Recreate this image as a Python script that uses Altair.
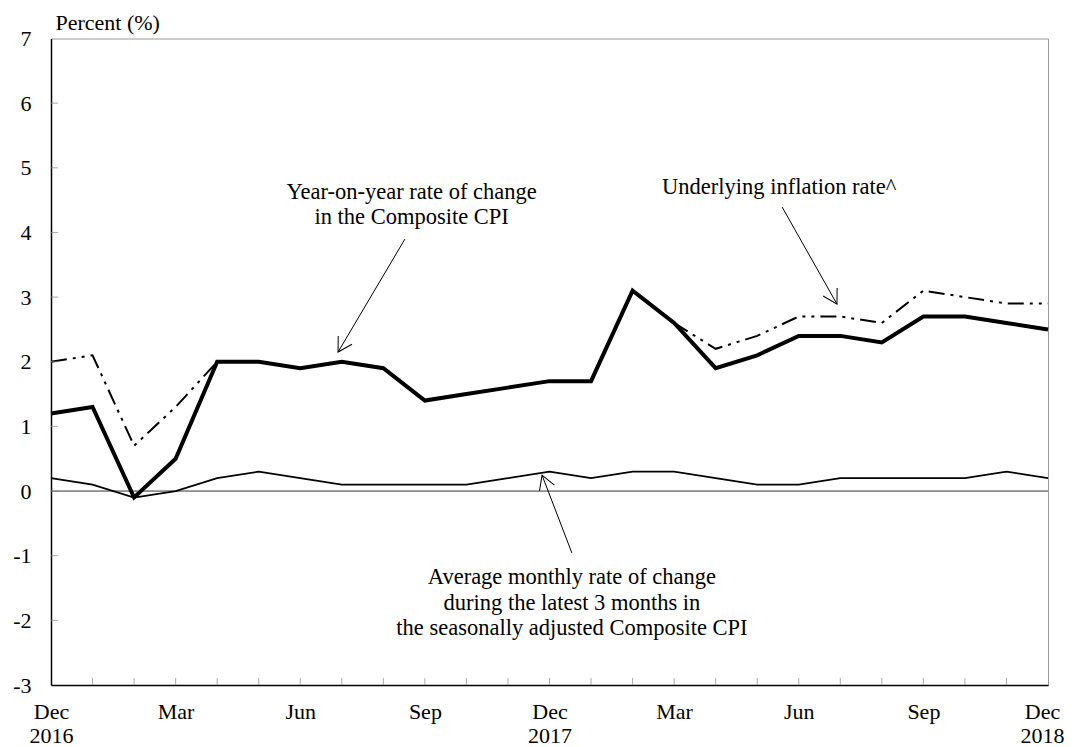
import math
import json
import altair as alt
import pandas as pd

# ---- data ----
months = ["Dec 2016", "Jan 2017", "Feb 2017", "Mar 2017", "Apr 2017", "May 2017", "Jun 2017",
          "Jul 2017", "Aug 2017", "Sep 2017", "Oct 2017", "Nov 2017", "Dec 2017",
          "Jan 2018", "Feb 2018", "Mar 2018", "Apr 2018", "May 2018", "Jun 2018",
          "Jul 2018", "Aug 2018", "Sep 2018", "Oct 2018", "Nov 2018", "Dec 2018"]
headline = [1.2, 1.3, -0.1, 0.5, 2.0, 2.0, 1.9, 2.0, 1.9, 1.4, 1.5, 1.6, 1.7,
            1.7, 3.1, 2.6, 1.9, 2.1, 2.4, 2.4, 2.3, 2.7, 2.7, 2.6, 2.5]
underlying = [2.0, 2.1, 0.7, 1.3, 2.0, 2.0, 1.9, 2.0, 1.9, 1.4, 1.5, 1.6, 1.7,
              1.7, 3.1, 2.6, 2.2, 2.4, 2.7, 2.7, 2.6, 3.1, 3.0, 2.9, 2.9]
monthly = [0.2, 0.1, -0.1, 0.0, 0.2, 0.3, 0.2, 0.1, 0.1, 0.1, 0.1, 0.2, 0.3,
           0.2, 0.3, 0.3, 0.2, 0.1, 0.1, 0.2, 0.2, 0.2, 0.2, 0.3, 0.2]

x_tick_values = [0, 3, 6, 9, 12, 15, 18, 21, 24]
x_tick_labels = ["Dec\n2016", "Mar", "Jun", "Sep", "Dec\n2017", "Mar", "Jun", "Sep", "Dec\n2018"]
y_tick_values = [-3, -2, -1, 0, 1, 2, 3, 4, 5, 6, 7]
y_title = "Percent (%)"

# annotation text (x in month index, y in percent, baseline)
ann_text = ["Year-on-year rate of change", "in the Composite CPI",
            "Underlying inflation rate^",
            "Average monthly rate of change", "during the latest 3 months in",
            "the seasonally adjusted Composite CPI"]
ann_x = [8.68, 8.68, 17.53, 12.54, 12.54, 12.54]
ann_y = [4.510, 4.123, 4.594, -1.434, -1.836, -2.233]

# arrows: tail -> tip
arr_x_tail = [8.52, 17.60, 12.54]
arr_y_tail = [3.898, 4.393, -0.959]
arr_x_tip = [6.91, 18.92, 11.82]
arr_y_tip = [2.150, 2.892, 0.247]

# ---- layout ----
W, H = 997, 646.5
FONT = "Liberation Serif"
FS = 22
FS_ANN = 22.5
px_x = W / 24.0
px_y = H / 10.0

idx = list(range(len(months)))
df = pd.DataFrame({"i": idx, "month": months, "headline": headline,
                   "underlying": underlying, "monthly": monthly})

angles = []
for xt, yt, xp, yp in zip(arr_x_tail, arr_y_tail, arr_x_tip, arr_y_tip):
    dx = (xp - xt) * px_x
    dy = -(yp - yt) * px_y
    angles.append(math.degrees(math.atan2(dx, -dy)) % 360)
arrows = pd.DataFrame({"x": arr_x_tail, "y": arr_y_tail, "x2": arr_x_tip,
                       "y2": arr_y_tip, "angle": angles})
ann = pd.DataFrame({"x": ann_x, "y": ann_y, "text": ann_text})

xs = alt.Scale(domain=[0, 24], nice=False, zero=False)
ys = alt.Scale(domain=[-3, 7], nice=False, zero=False)

label_arr = json.dumps([lbl.split("\n") for lbl in x_tick_labels])
x_axis = alt.Axis(values=x_tick_values, labelExpr=f"{label_arr}[round(datum.value/3)]",
                  title=None, ticks=False, grid=False, domainColor="black", domainWidth=1.5,
                  labelFont=FONT, labelFontSize=FS, labelColor="black", labelPadding=16,
                  labelLineHeight=24, labelFlush=False, labelOverlap=False, labelBound=False,
                  labelBaseline="top",
                  labelOffset={"condition": {"test": "datum.value == 24", "value": -6},
                               "value": 0})
y_axis = alt.Axis(values=y_tick_values, labelExpr="toString(datum.value)",
                  title=y_title, titleAngle=0, titleAlign="left",
                  titleBaseline="alphabetic", titleX=4, titleY=-9.5, titleFont=FONT,
                  titleFontSize=FS, titleFontWeight="normal", titleColor="black",
                  ticks=False, grid=False, domainColor="black", domainWidth=1.5,
                  labelFont=FONT, labelFontSize=FS, labelColor="black", labelPadding=20,
                  labelOverlap=False, labelBaseline="middle")


def X(field):
    return alt.X(field, type="quantitative", scale=xs, axis=x_axis)


def Y(field):
    return alt.Y(field, type="quantitative", scale=ys, axis=y_axis)


base = alt.Chart(df)

under_line = base.mark_line(color="black", strokeWidth=2, strokeDash=[16, 6, 3, 6, 3, 6]).encode(
    x=X("i"), y=Y("underlying"),
)
head_line = base.mark_line(color="black", strokeWidth=4, strokeJoin="miter").encode(
    x=X("i"), y=Y("headline"),
)
month_line = base.mark_line(color="black", strokeWidth=1.8).encode(
    x=X("i"), y=Y("monthly"),
)

zero_rule = alt.Chart(pd.DataFrame({"y": [0]})).mark_rule(color="#333", strokeWidth=1).encode(
    y=Y("y"),
)

xt_df = pd.DataFrame({"i": idx[1:-1], "y": [-3] * (len(idx) - 2)})
x_ticks = alt.Chart(xt_df).mark_tick(orient="vertical", size=7, thickness=1, color="#888",
                                     yOffset=-3.5).encode(
    x=X("i"), y=Y("y"),
)
yt_vals = y_tick_values[1:-1]
yt_df = pd.DataFrame({"x": [0] * len(yt_vals), "v": yt_vals})
y_ticks = alt.Chart(yt_df).mark_tick(orient="horizontal", size=7, thickness=1, color="#888",
                                     xOffset=3.5).encode(
    x=X("x"), y=Y("v"),
)

arrow_lines = alt.Chart(arrows).mark_rule(color="black", strokeWidth=1).encode(
    x=X("x"), y=Y("y"), x2="x2:Q", y2="y2:Q",
)
arrow_heads = alt.Chart(arrows).mark_point(shape="M-0.5,0.866L0,0L0.5,0.866", filled=False,
                                           size=1024, strokeWidth=1, color="black",
                                           opacity=1).encode(
    x=X("x2"), y=Y("y2"),
    angle=alt.Angle("angle:Q", scale=None),
)
texts = alt.Chart(ann).mark_text(align="center", baseline="alphabetic", font=FONT,
                                 fontSize=FS_ANN, color="black").encode(
    x=X("x"), y=Y("y"), text="text:N",
)

chart = alt.layer(
    under_line, zero_rule, x_ticks, y_ticks, head_line, month_line,
    arrow_lines, arrow_heads, texts,
).properties(
    width=W, height=H,
    autosize=alt.AutoSizeParams(type="none"),
    padding={"left": 43, "top": 30.5, "right": 17, "bottom": 62},
    background="white",
).configure_view(stroke="#999", strokeWidth=1)

chart.save("out.html", embed_options={"renderer": "svg", "actions": False})
